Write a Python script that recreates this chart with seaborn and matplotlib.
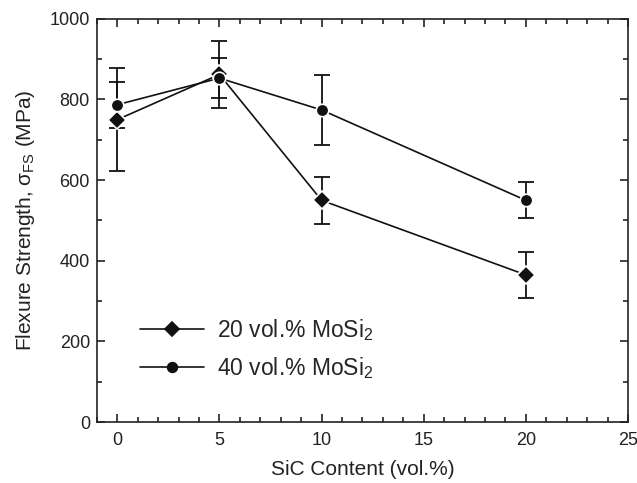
import matplotlib
matplotlib.use("Agg")
import matplotlib.pyplot as plt
import seaborn as sns
import pandas as pd
from matplotlib.ticker import MultipleLocator

sic = [0, 5, 10, 20]
s20 = [750, 862, 550, 365]
e20 = [127, 83, 59, 58]
s40 = [787, 853, 774, 550]
e40 = [57, 50, 86, 45]
labels = ["20 vol.% MoSi$_2$", "40 vol.% MoSi$_2$"]

sns.set_theme(style="ticks")
plt.rcParams['font.family'] = ['Liberation Sans', 'DejaVu Sans']
plt.rcParams['mathtext.fontset'] = 'custom'
plt.rcParams['mathtext.rm'] = 'Liberation Sans'
plt.rcParams['mathtext.it'] = 'Liberation Sans:italic'

df = pd.DataFrame({
    "x": sic + sic,
    "y": s20 + s40,
    "series": [labels[0]] * len(sic) + [labels[1]] * len(sic),
})

fig = plt.figure(figsize=(6.37, 4.83), dpi=100)
ax = fig.add_axes([0.152, 0.126, 0.834, 0.835])

col = "#111111"
ax.errorbar(sic, s20, yerr=e20, fmt="none", ecolor=col, elinewidth=1.3,
            capsize=6, capthick=1.3, zorder=2)
ax.errorbar(sic, s40, yerr=e40, fmt="none", ecolor=col, elinewidth=1.3,
            capsize=6, capthick=1.3, zorder=2)

sns.lineplot(data=df, x="x", y="y", hue="series", style="series",
             markers={labels[0]: "D", labels[1]: "o"}, dashes=False,
             palette=[col, col], markersize=9, linewidth=1.2,
             markeredgecolor="white", markeredgewidth=1.2, ax=ax, zorder=3)

ax.set_xlim(-1, 25)
ax.set_ylim(0, 1000)
ax.xaxis.set_major_locator(MultipleLocator(5))
ax.xaxis.set_minor_locator(MultipleLocator(1))
ax.yaxis.set_major_locator(MultipleLocator(200))
ax.yaxis.set_minor_locator(MultipleLocator(100))
ax.tick_params(which="both", direction="in", top=True, right=True,
               labelsize=13, colors="#222222", width=1.2)
ax.tick_params(which="major", length=6)
ax.tick_params(which="minor", length=3.5)
ax.tick_params(axis="x", pad=7)
ax.tick_params(axis="y", pad=5)
for s in ax.spines.values():
    s.set_linewidth(1.2)
    s.set_color("#222222")

ax.set_xlabel("SiC Content (vol.%)", fontsize=15, color="#222222", labelpad=8)
ax.set_ylabel("Flexure Strength, σ$_{\\mathrm{FS}}$ (MPa)", fontsize=15,
              color="#222222", labelpad=9)

leg = ax.legend(loc="upper left", bbox_to_anchor=(0.043, 0.312), frameon=False,
                fontsize=16.5, handlelength=2.8, labelspacing=0.55,
                handletextpad=0.55)
for h in leg.legend_handles:
    h.set_markeredgecolor(col)
    h.set_markersize(7)

fig.savefig("out.png", dpi=100)
